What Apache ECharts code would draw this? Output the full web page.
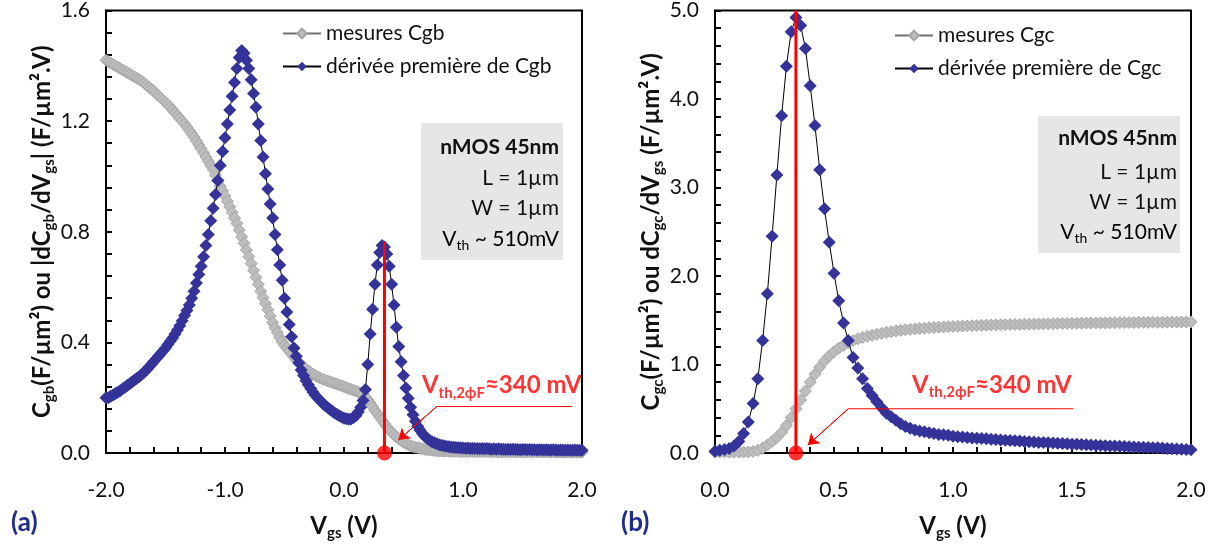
<!DOCTYPE html>
<html>
<head>
<meta charset="utf-8">
<script src="https://cdn.jsdelivr.net/npm/echarts@6/dist/echarts.min.js"></script>
<style>html,body{margin:0;padding:0;background:#fff;}#c{width:1227px;height:551px;}</style>
</head>
<body>
<div id="c"></div>
<script>
// ---------- DATA ----------
// (a) Vgs sweep -2.0 .. 2.0 V, step 0.02 V
const vgsA = [];
for (let i = 0; i <= 200; i++) vgsA.push(+(-2 + 0.02 * i).toFixed(2));
// (b) Vgs sweep 0.0 .. 2.0 V, step 0.02 V
const vgsB = [];
for (let i = 0; i <= 100; i++) vgsB.push(+(0.02 * i).toFixed(2));

// mesures Cgb (F/µm²)
const cgbMes = [
1.42,1.415,1.41,1.405,1.40, 1.395,1.39,1.385,1.38,1.375,
1.37,1.365,1.36,1.355,1.35, 1.345,1.338,1.33,1.323,1.316,
1.31,1.30,1.292,1.284,1.276, 1.268,1.26,1.25,1.24,1.23,
1.22,1.21,1.20,1.19,1.178, 1.166,1.154,1.142,1.128,1.114,
1.10,1.085,1.07,1.055,1.04, 1.025,1.005,0.985,0.965,0.948,
0.93,
0.91,0.89,0.87,0.85,0.83, 0.806,0.782,0.758,0.734,0.71,
0.685,0.66,0.635,0.61,0.585, 0.562,0.54,0.518,0.495,0.472,
0.453,0.435,0.418,0.403,0.39, 0.379,0.368,0.357,0.346,0.336,
0.328,0.32,0.312,0.304,0.297, 0.291,0.285,0.28,0.275,0.271,
0.267,0.264,0.261,0.258,0.255, 0.252,0.249,0.246,0.243,0.24,
0.236,0.233,0.23,0.227,0.224, 0.221,0.217,0.212,0.203,0.192,
0.18,0.167,0.154,0.142,0.13, 0.118,0.106,0.095,0.085,0.075,
0.066,0.058,0.051,0.045,0.039, 0.034,0.03,0.026,0.023,0.021,
0.019,0.017,0.015,0.013,0.012, 0.011,0.010,0.009,0.008,0.008,
0.007,0.007,0.007,0.006,0.006, 0.006,0.006,0.006,0.005,0.005,
0.005,0.005,0.005,0.005,0.005, 0.005,0.005,0.005,0.005,0.005,
0.005,0.004,0.005,0.004,0.004, 0.004,0.004,0.004,0.004,0.004,
0.004,0.004,0.004,0.004,0.004, 0.004,0.004,0.004,0.004,0.004,
0.004,0.004,0.004,0.004,0.004, 0.004,0.003,0.004,0.003,0.004,
0.003,0.003,0.003,0.004,0.003, 0.003,0.003,0.003,0.003,0.003
];
// dérivée première de Cgb |dCgb/dVgs| (F/µm².V)
const cgbDer = [
0.20,0.20,0.205,0.21,0.215, 0.22,0.225,0.232,0.238,0.245,
0.25,0.258,0.264,0.27,0.277, 0.284,0.292,0.30,0.31,0.32,
0.33,0.34,0.35,0.36,0.37, 0.38,0.392,0.404,0.416,0.43,
0.445,0.46,0.478,0.497,0.515, 0.535,0.56,0.585,0.615,0.645,
0.675,0.71,0.75,0.79,0.84, 0.885,0.935,0.985,1.04,1.09,
1.14,
1.19,1.24,1.29,1.34,1.39, 1.43,1.455,1.445,1.42,1.39,
1.35,1.30,1.25,1.19,1.13, 1.07,1.01,0.955,0.90,0.85,
0.79,0.735,0.68,0.625,0.56, 0.51,0.465,0.42,0.38,0.35,
0.325,0.30,0.28,0.262,0.247, 0.233,0.22,0.208,0.198,0.19,
0.18,0.172,0.165,0.158,0.152, 0.145,0.14,0.135,0.13,0.126,
0.124,0.122,0.123,0.128,0.135, 0.148,0.165,0.19,0.23,0.32,
0.43,0.52,0.61,0.68,0.725, 0.75,0.745,0.72,0.675,0.61,
0.535,0.455,0.385,0.33,0.28, 0.235,0.198,0.165,0.138,0.115,
0.097,0.082,0.07,0.06,0.052, 0.046,0.041,0.037,0.033,0.03,
0.028,0.026,0.024,0.023,0.022, 0.021,0.02,0.019,0.019,0.018,
0.017,0.018,0.016,0.017,0.016, 0.016,0.015,0.016,0.015,0.016,
0.015,0.014,0.015,0.014,0.015, 0.014,0.014,0.013,0.014,0.013,
0.014,0.013,0.013,0.012,0.013, 0.013,0.012,0.013,0.012,0.012,
0.011,0.012,0.012,0.011,0.012, 0.011,0.011,0.012,0.011,0.010,
0.011,0.011,0.010,0.011,0.010, 0.010,0.011,0.010,0.010,0.010
];
// mesures Cgc (F/µm²)
const cgcMes = [
0.01,0.01,0.01,0.01,0.01, 0.01,0.01,0.012,0.018,0.03,
0.055,0.09,0.13,0.175,0.235, 0.31,0.40,0.50,0.60,0.70,
0.80,0.89,0.97,1.04,1.095, 1.145,1.185,1.215,1.245,1.27,
1.29,1.305,1.318,1.33,1.342, 1.352,1.362,1.371,1.379,1.386,
1.392,1.397,1.402,1.407,1.411, 1.415,1.418,1.421,1.424,1.427,
1.43,1.432,1.434,1.436,1.438, 1.44,1.442,1.444,1.445,1.447,
1.448,1.45,1.451,1.452,1.453, 1.455,1.456,1.457,1.458,1.459,
1.46,1.461,1.462,1.463,1.464, 1.465,1.466,1.467,1.468,1.468,
1.469,1.47,1.47,1.471,1.472, 1.472,1.473,1.474,1.474,1.475,
1.475,1.476,1.477,1.477,1.478, 1.478,1.479,1.479,1.48,1.48,
1.481
];
// dérivée première de Cgc dCgc/dVgs (F/µm².V)
const cgcDer = [
0.02,0.03,0.04,0.05,0.08, 0.13,0.22,0.35,0.56,0.84,
1.27,1.80,2.45,3.14,3.81, 4.37,4.76,4.92,4.83,4.57,
4.15,3.70,3.20,2.76,2.38, 2.03,1.72,1.47,1.27,1.08,
0.96,0.84,0.73,0.65,0.58, 0.51,0.45,0.41,0.37,0.33,
0.30,0.28,0.26,0.25,0.24, 0.23,0.22,0.21,0.205,0.20,
0.19,0.185,0.18,0.175,0.17, 0.168,0.163,0.16,0.155,0.152,
0.148,0.145,0.14,0.138,0.135, 0.13,0.128,0.125,0.12,0.118,
0.115,0.112,0.11,0.107,0.105, 0.10,0.098,0.096,0.093,0.09,
0.088,0.085,0.083,0.08,0.078, 0.075,0.073,0.07,0.068,0.066,
0.064,0.062,0.06,0.058,0.056, 0.05,0.048,0.045,0.043,0.04,
0.038
];
// annotation values
const vth2phi = 0.34;           // V
const vlineTopA = 0.765;        // top of red line in (a)
const vlineTopB = 5.0;          // top of red line in (b)
const arrowA = [[1.916, 0.168], [0.78, 0.168], [0.457, 0.047]];
const arrowB = [[1.505, 0.50], [0.56, 0.50], [0.39, 0.09]];
const annotA = [0.655, 0.244];
const annotB = [0.828, 0.767];

// axis ranges / tick steps
const xTicksA = { min: -2, max: 2, interval: 1 };
const yTicksA = { min: 0, max: 1.6, interval: 0.4 };
const xTicksB = { min: 0, max: 2, interval: 0.5 };
const yTicksB = { min: 0, max: 5, interval: 1 };

// ---------- CHART ----------
const FONT = 'Lato, "Open Sans", "DejaVu Sans", sans-serif';
const BLUE = '#333399';
const GRAY = '#bdbdbd';
const RED = '#ff0000';
const TXT = '#111';

function nameRich() {
  return {
    b: { fontSize: 24, fontWeight: 'bold', fontFamily: FONT, lineHeight: 30, color: TXT },
    s: { fontSize: 15, fontWeight: 'bold', fontFamily: FONT, lineHeight: 16, verticalAlign: 'bottom', color: TXT }
  };
}
function xAxis(gi, t, nameGap) {
  return {
    gridIndex: gi, type: 'value', min: t.min, max: t.max, interval: t.interval,
    axisLine: { show: true, onZero: false, lineStyle: { color: '#000', width: 2 } },
    axisTick: { show: true, inside: true, length: 6, lineStyle: { color: '#000', width: 2 } },
    minorTick: { show: true, splitNumber: 5, length: 6, lineStyle: { color: '#000', width: 2 } },
    splitLine: { show: false },
    axisLabel: { formatter: v => v.toFixed(1), margin: 27, fontSize: 21, color: TXT, fontFamily: FONT },
    name: '{b|V}{s|gs}{b| (V)}', nameLocation: 'middle', nameGap: nameGap,
    nameTextStyle: { fontFamily: FONT, color: TXT, rich: nameRich() }
  };
}
function yAxis(gi, t, name, nameGap) {
  return {
    gridIndex: gi, type: 'value', min: t.min, max: t.max, interval: t.interval,
    axisLine: { show: true, onZero: false, lineStyle: { color: '#000', width: 2 } },
    axisTick: { show: true, inside: true, length: 6, lineStyle: { color: '#000', width: 2 } },
    minorTick: { show: true, splitNumber: 5, length: 6, lineStyle: { color: '#000', width: 2 } },
    splitLine: { show: false },
    axisLabel: { formatter: v => v.toFixed(1), margin: 16, fontSize: 21, color: TXT, fontFamily: FONT },
    name: name, nameLocation: 'middle', nameGap: nameGap,
    nameTextStyle: { fontFamily: FONT, color: TXT, rich: nameRich() }
  };
}
function mesSeries(name, gi, xs, ys) {
  return {
    name: name, type: 'line', xAxisIndex: gi, yAxisIndex: gi,
    data: xs.map((x, i) => [x, ys[i]]),
    symbol: 'diamond', symbolSize: 12, showSymbol: true, clip: false,
    itemStyle: { color: GRAY, borderColor: '#a5a5a5', borderWidth: 1 },
    lineStyle: { color: '#6f6f6f', width: 1 }, z: 2
  };
}
function derSeries(name, gi, xs, ys) {
  return {
    name: name, type: 'line', xAxisIndex: gi, yAxisIndex: gi,
    data: xs.map((x, i) => [x, ys[i]]),
    symbol: 'diamond', symbolSize: 13, showSymbol: true, clip: false,
    itemStyle: { color: BLUE },
    lineStyle: { color: '#000', width: 1 }, z: 3
  };
}
function annotSeries(gi, top, arrow, pos) {
  return [
    { type: 'line', xAxisIndex: gi, yAxisIndex: gi, data: [[vth2phi, 0], [vth2phi, top]],
      symbol: 'none', lineStyle: { color: RED, width: 3 }, z: 5, clip: false },
    { type: 'scatter', xAxisIndex: gi, yAxisIndex: gi, data: [[vth2phi, 0]],
      symbol: 'circle', symbolSize: 15, itemStyle: { color: RED }, z: 6, clip: false },
    { type: 'line', xAxisIndex: gi, yAxisIndex: gi, data: arrow,
      symbol: 'none', lineStyle: { color: RED, width: 1 }, z: 5 },
    { type: 'lines', coordinateSystem: 'cartesian2d', xAxisIndex: gi, yAxisIndex: gi,
      data: [{ coords: [arrow[1], arrow[2]] }], symbol: ['none', 'arrow'], symbolSize: 11,
      lineStyle: { color: RED, width: 1, opacity: 1, curveness: 0 }, z: 5 },
    { type: 'scatter', xAxisIndex: gi, yAxisIndex: gi, data: [pos], symbolSize: 0,
      itemStyle: { color: 'rgba(0,0,0,0)' }, z: 7,
      label: { show: true, position: 'right', distance: 0,
        formatter: '{b|V}{s|th,2ϕF}{b|≈340 mV}',
        rich: {
          b: { fontSize: 24, fontWeight: 'bold', color: RED, fontFamily: FONT, lineHeight: 30 },
          s: { fontSize: 15, fontWeight: 'bold', color: RED, fontFamily: FONT, lineHeight: 16, verticalAlign: 'bottom' }
        } } }
  ];
}
function infoBox(x, y, right, lines) {
  const rich = {
    n: { fontSize: 21, fontFamily: FONT, color: TXT, lineHeight: 26 },
    s: { fontSize: 14, fontFamily: FONT, color: TXT, lineHeight: 13, verticalAlign: 'bottom' }
  };
  return [
    { type: 'rect', shape: { x: x, y: y, width: 142, height: 137 }, style: { fill: '#e6e6e6' }, z: 1 },
    { type: 'text', x: right, y: lines[0], style: { text: 'nMOS 45nm', align: 'right', verticalAlign: 'middle', font: 'bold 21px ' + FONT, fill: TXT }, z: 2 },
    { type: 'text', x: right, y: lines[1], style: { text: 'L = 1µm', align: 'right', verticalAlign: 'middle', font: '21px ' + FONT, fill: TXT }, z: 2 },
    { type: 'text', x: right, y: lines[2], style: { text: 'W = 1µm', align: 'right', verticalAlign: 'middle', font: '21px ' + FONT, fill: TXT }, z: 2 },
    { type: 'text', x: right, y: lines[3], style: { text: '{n|V}{s|th}{n| ~ 510mV}', rich: rich, align: 'right', verticalAlign: 'middle' }, z: 2 }
  ];
}

const chart = echarts.init(document.getElementById('c'), null, { renderer: 'canvas' });
chart.setOption({
  animation: false,
  backgroundColor: '#fff',
  grid: [
    { left: 106, top: 8, width: 476, height: 445, show: true, borderColor: '#000', borderWidth: 2, backgroundColor: 'transparent' },
    { left: 715, top: 8, width: 476, height: 445, show: true, borderColor: '#000', borderWidth: 2, backgroundColor: 'transparent' }
  ],
  xAxis: [xAxis(0, xTicksA, 58), xAxis(1, xTicksB, 58)],
  yAxis: [
    yAxis(0, yTicksA, '{b|C}{s|gb}{b|(F/µm²) ou |dC}{s|gb}{b|/dV}{s|gs}{b|| (F/µm².V)}', 44),
    yAxis(1, yTicksB, '{b|C}{s|gc}{b|(F/µm²) ou dC}{s|gc}{b|/dV}{s|gs}{b| (F/µm².V)}', 43)
  ],
  legend: [
    { data: ['mesures Cgb', 'dérivée première de Cgb'], orient: 'vertical', left: 277, top: 18,
      itemWidth: 38, itemHeight: 12, itemGap: 12, textStyle: { fontSize: 21, fontFamily: FONT, color: TXT } },
    { data: ['mesures Cgc', 'dérivée première de Cgc'], orient: 'vertical', left: 889, top: 20,
      itemWidth: 38, itemHeight: 12, itemGap: 12, textStyle: { fontSize: 21, fontFamily: FONT, color: TXT } }
  ],
  graphic: [].concat(
    infoBox(421, 123, 559, [147, 178, 208, 239]),
    infoBox(1038, 116, 1177, [138, 172, 202, 232]),
    [
      { type: 'text', x: 11, y: 523, style: { text: '(a)', font: 'bold 26px ' + FONT, fill: '#1f2d8a', verticalAlign: 'middle' } },
      { type: 'text', x: 621, y: 523, style: { text: '(b)', font: 'bold 26px ' + FONT, fill: '#1f2d8a', verticalAlign: 'middle' } }
    ]
  ),
  series: [].concat(
    [mesSeries('mesures Cgb', 0, vgsA, cgbMes), derSeries('dérivée première de Cgb', 0, vgsA, cgbDer)],
    annotSeries(0, vlineTopA, arrowA, annotA),
    [mesSeries('mesures Cgc', 1, vgsB, cgcMes), derSeries('dérivée première de Cgc', 1, vgsB, cgcDer)],
    annotSeries(1, vlineTopB, arrowB, annotB)
  )
});
</script>
</body>
</html>
